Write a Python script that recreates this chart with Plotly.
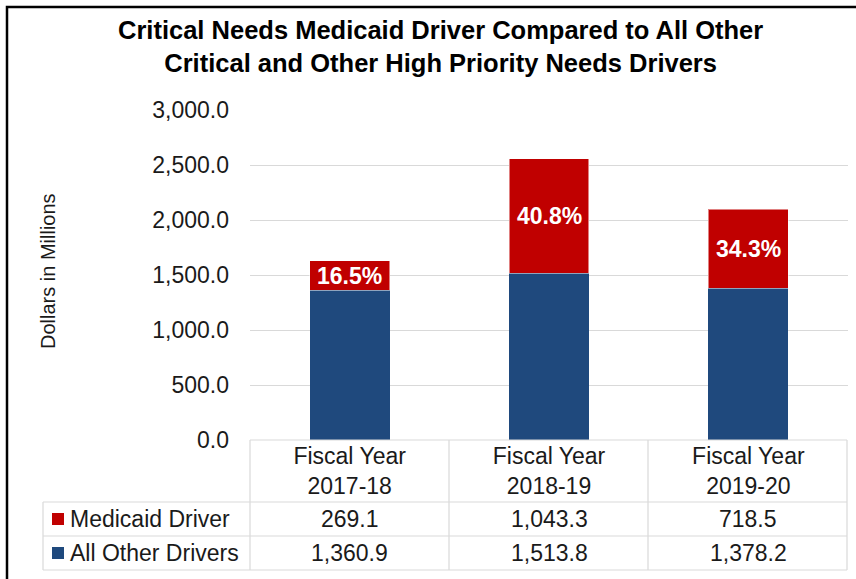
import plotly.graph_objects as go

categories = ["Fiscal Year 2017-18", "Fiscal Year 2018-19", "Fiscal Year 2019-20"]
tick_labels = ["Fiscal Year<br>2017-18", "Fiscal Year<br>2018-19", "Fiscal Year<br>2019-20"]
medicaid = [269.1, 1043.3, 718.5]
other = [1360.9, 1513.8, 1378.2]
pct_labels = ["16.5%", "40.8%", "34.3%"]
series_names = ["Medicaid Driver", "All Other Drivers"]

RED = "#C00000"
BLUE = "#1F497D"
GRID = "#D9D9D9"
TXT = "#1a1a1a"
FONT = "Liberation Sans, Arial, sans-serif"

W, H = 856, 579
L, R, T, B = 250, 8, 110, 139
PW = W - L - R
PH = H - T - B


def px(x):
    return (x - L) / PW


def py(y):
    return (H - B - y) / PH


fig = go.Figure()
fig.add_trace(go.Bar(x=categories, y=other, name=series_names[1], marker_color=BLUE,
                     marker_line_width=0))
fig.add_trace(go.Bar(x=categories, y=medicaid, name=series_names[0], marker_color=RED,
                     marker_line=dict(color="rgba(255,255,255,0.5)", width=1)))

# percent labels inside the red segments
for c, o, m, t in zip(categories, other, medicaid, pct_labels):
    fig.add_annotation(x=c, y=o + m / 2, xref="x", yref="y", text="<b>%s</b>" % t,
                       showarrow=False, xanchor="center", yanchor="middle",
                       font=dict(family=FONT, size=23, color="white"))

shapes = []
line_style = dict(color=GRID, width=1.2)
# table vertical lines
for xv in [250, 449, 648, 847]:
    shapes.append(dict(type="line", xref="paper", yref="paper", x0=px(xv), x1=px(xv),
                       y0=py(440), y1=py(570), line=line_style))
shapes.append(dict(type="line", xref="paper", yref="paper", x0=px(43), x1=px(43),
                   y0=py(502), y1=py(570), line=line_style))
for yv in [502, 536, 570]:
    shapes.append(dict(type="line", xref="paper", yref="paper", x0=px(43), x1=px(847),
                       y0=py(yv), y1=py(yv), line=line_style))
shapes.append(dict(type="line", xref="paper", yref="paper", x0=px(250), x1=px(847),
                   y0=py(440), y1=py(440), line=line_style))
# legend keys
for (y0, y1), col in zip([(513, 525), (547, 559)], [RED, BLUE]):
    shapes.append(dict(type="rect", xref="paper", yref="paper", x0=px(52), x1=px(64),
                       y0=py(y1), y1=py(y0), fillcolor=col, line=dict(width=0)))
# outer border
shapes.append(dict(type="rect", xref="paper", yref="paper", x0=px(7), x1=px(870),
                   y0=py(600), y1=py(7), line=dict(color="black", width=2.5)))

# table row labels and values
rows = [(series_names[0], medicaid, 519), (series_names[1], other, 553)]
for name, vals, yc in rows:
    fig.add_annotation(x=px(68), y=py(yc), xref="paper", yref="paper", text=name,
                       xanchor="left", yanchor="middle", showarrow=False,
                       font=dict(family=FONT, size=23, color=TXT))
    for c, v in zip(categories, vals):
        fig.add_annotation(x=c, y=py(yc), xref="x", yref="paper", text=f"{v:,.1f}",
                           showarrow=False, xanchor="center", yanchor="middle",
                           font=dict(family=FONT, size=23, color=TXT))

# title
fig.add_annotation(x=px(440), y=py(46), xref="paper", yref="paper",
                   text="<b>Critical Needs Medicaid Driver Compared to All Other<br>"
                        "Critical and Other High Priority Needs Drivers</b>",
                   showarrow=False, xanchor="center", yanchor="middle",
                   font=dict(family=FONT, size=25.5, color="black"))
# y-axis title
fig.add_annotation(x=px(48), y=py(271), xref="paper", yref="paper",
                   text="Dollars in Millions", textangle=-90, showarrow=False,
                   xanchor="center", yanchor="middle",
                   font=dict(family=FONT, size=20, color=TXT))

fig.update_layout(
    width=W, height=H, barmode="stack", bargap=0.6, showlegend=False,
    margin=dict(l=L, r=R, t=T, b=B, pad=0),
    plot_bgcolor="white", paper_bgcolor="white",
    shapes=shapes,
    font=dict(family=FONT, color=TXT),
)
fig.update_xaxes(tickmode="array", tickvals=categories, ticktext=tick_labels,
                 tickfont=dict(family=FONT, size=23, color=TXT), showgrid=False,
                 showline=False, ticks="")
fig.update_yaxes(range=[0, 3000], dtick=500, tickformat=",.1f", showgrid=True,
                 gridcolor=GRID, gridwidth=1.2, zeroline=False, showline=False,
                 ticks="", ticklabelstandoff=20,
                 tickfont=dict(family=FONT, size=23, color=TXT))

fig.write_html("out.html")
